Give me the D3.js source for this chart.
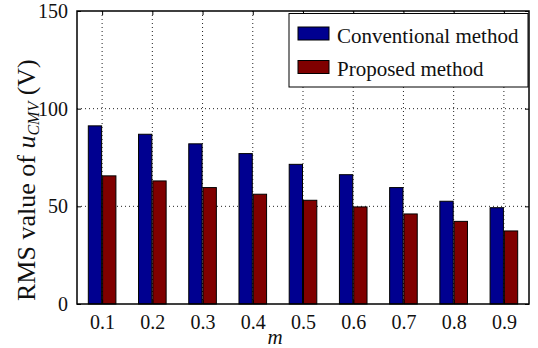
<!DOCTYPE html>
<html>
<head>
<meta charset="utf-8">
<script src="https://cdn.jsdelivr.net/npm/d3@7"></script>
<style>
  html, body { margin: 0; padding: 0; background: #fff; }
</style>
</head>
<body>
<svg id="chart" width="538" height="348"></svg>
<script>
const categories = ["0.1", "0.2", "0.3", "0.4", "0.5", "0.6", "0.7", "0.8", "0.9"];
const seriesNames = ["Conventional method", "Proposed method"];
const conventional = [91.2, 86.9, 82.0, 77.0, 71.5, 66.2, 59.6, 52.6, 49.3];
const proposed = [65.6, 63.0, 59.6, 56.2, 53.1, 49.7, 46.1, 42.3, 37.4];
const seriesColors = ["#000090", "#800000"];
const yTicks = [0, 50, 100, 150];

const FONT = "Liberation Serif";
const svg = d3.select("#chart");
const L = 77, R = 529, T = 11, B = 304;

const x = d3.scaleLinear().domain([0.5, categories.length + 0.5]).range([L, R]);
const y = d3.scaleLinear().domain([0, 150]).range([B, T]);
const sub = d3.scaleBand().domain(seriesNames).range([-13.8, 13.8]).paddingInner(0.07);

const data = categories.map((c, i) => ({ cat: c, i: i + 1, vals: [conventional[i], proposed[i]] }));

// grid
const grid = svg.append("g").attr("stroke", "#222").attr("stroke-width", 1).attr("stroke-dasharray", "1,3");
grid.selectAll("line.v").data(data).enter().append("line")
  .attr("x1", d => x(d.i)).attr("x2", d => x(d.i)).attr("y1", T).attr("y2", B);
grid.selectAll("line.h").data(yTicks.filter(t => t > 0 && t < 150)).enter().append("line")
  .attr("x1", L).attr("x2", R).attr("y1", d => y(d)).attr("y2", d => y(d));

// bars
const groups = svg.append("g").selectAll("g").data(data).enter().append("g");
groups.selectAll("rect").data(d => d.vals.map((v, k) => ({ v, k, i: d.i }))).enter().append("rect")
  .attr("x", d => x(d.i) + sub(seriesNames[d.k]))
  .attr("width", sub.bandwidth())
  .attr("y", d => y(d.v))
  .attr("height", d => y(0) - y(d.v))
  .attr("fill", d => seriesColors[d.k])
  .attr("stroke", "#000").attr("stroke-width", 1);

// axes (ticks inside)
const xAxisB = d3.axisBottom(x).tickValues(data.map(d => d.i)).tickFormat((d, i) => categories[i]).tickSizeInner(-4).tickSizeOuter(0).tickPadding(11);
const gxb = svg.append("g").attr("transform", `translate(0,${B})`).call(xAxisB);
const xAxisT = d3.axisTop(x).tickValues(data.map(d => d.i)).tickFormat("").tickSizeInner(-4).tickSizeOuter(0);
const gxt = svg.append("g").attr("transform", `translate(0,${T})`).call(xAxisT);
const yAxisL = d3.axisLeft(y).tickValues(yTicks).tickFormat(d3.format("d")).tickSizeInner(-4).tickSizeOuter(0).tickPadding(9);
const gyl = svg.append("g").attr("transform", `translate(${L},0)`).call(yAxisL);
const yAxisR = d3.axisRight(y).tickValues(yTicks).tickFormat("").tickSizeInner(-4).tickSizeOuter(0);
const gyr = svg.append("g").attr("transform", `translate(${R},0)`).call(yAxisR);

[gxb, gxt, gyl, gyr].forEach(g => {
  g.select(".domain").remove();
  g.selectAll(".tick line").attr("stroke", "#000").attr("stroke-width", 1);
  g.selectAll("text").style("font-family", FONT).style("font-size", "20px").attr("fill", "#111");
});

// frame
svg.append("rect").attr("x", L).attr("y", T).attr("width", R - L).attr("height", B - T)
  .attr("fill", "none").attr("stroke", "#000").attr("stroke-width", 1.5);

// axis labels
svg.append("text").attr("x", 275).attr("y", 344).attr("text-anchor", "middle")
  .style("font-family", FONT).style("font-size", "21px").style("font-style", "italic").attr("fill", "#111").text("m");

const yl = svg.append("text").attr("transform", "translate(35,301) rotate(-90)")
  .attr("text-anchor", "start").style("font-family", FONT).style("font-size", "26px").attr("fill", "#111");
yl.append("tspan").text("RMS value of ");
yl.append("tspan").style("font-style", "italic").text("u");
yl.append("tspan").style("font-style", "italic").style("font-size", "16px").attr("dy", 4).text("CMV");
yl.append("tspan").attr("dy", -4).text(" (V)");

// legend
const lg = svg.append("g");
lg.append("rect").attr("x", 289).attr("y", 13.5).attr("width", 239).attr("height", 73.5)
  .attr("fill", "#fff").attr("stroke", "#000").attr("stroke-width", 1);
const items = lg.selectAll("g.item").data(seriesNames).enter().append("g")
  .attr("transform", (d, i) => `translate(0,${i * 33.5})`);
items.append("rect").attr("x", 298).attr("y", 27).attr("width", 31).attr("height", 13)
  .attr("fill", (d, i) => seriesColors[i]).attr("stroke", "#000").attr("stroke-width", 1);
items.append("text").attr("x", 337).attr("y", 42.5).style("font-family", FONT).style("font-size", "21px").attr("fill", "#111").text(d => d);
</script>
</body>
</html>
